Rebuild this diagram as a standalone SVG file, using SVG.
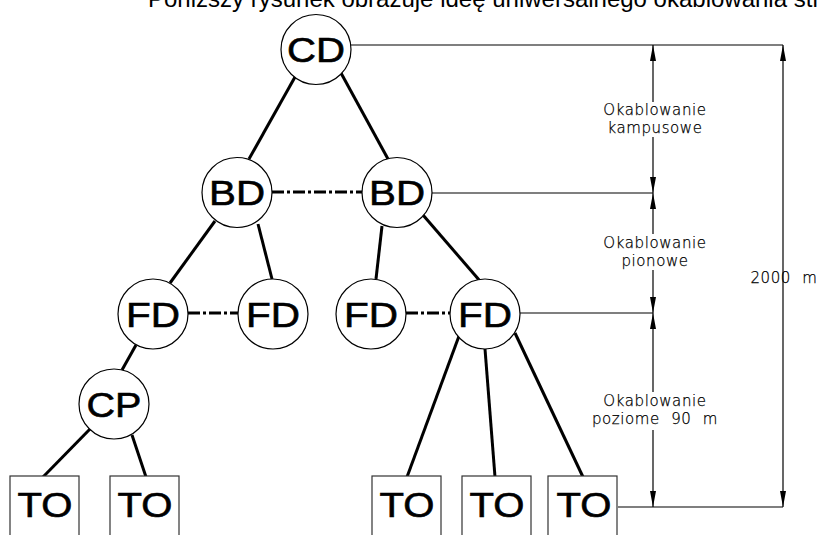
<svg xmlns="http://www.w3.org/2000/svg" width="819" height="535" viewBox="0 0 819 535">
<style>
.nd{fill:#fff;stroke:#000;stroke-width:1.2}
.bx{fill:#fff;stroke:#333;stroke-width:1.2}
.lb{font-family:"Liberation Sans",Arial,sans-serif;font-size:35px;fill:#000;stroke:#000;stroke-width:0.6;text-anchor:middle}
.cn{stroke:#000;stroke-width:3;fill:none}
.dd{stroke:#000;stroke-width:3;fill:none;stroke-dasharray:12 3 3 3}
.thin{stroke:#000;stroke-width:1.2;fill:none}
.dim{stroke:#000;stroke-width:1.2;fill:none;marker-end:url(#arr)}
.cad{font-family:"DejaVu Sans","Liberation Sans",sans-serif;font-weight:200;font-size:15px;fill:#000;stroke:#000;stroke-width:0.25;text-anchor:middle;letter-spacing:0.6px}
.title{font-family:"Liberation Sans",Arial,sans-serif;font-size:24px;fill:#000}
</style>
<defs>
<marker id="arr" viewBox="0 0 16 6" refX="16" refY="3" markerWidth="16" markerHeight="6" markerUnits="userSpaceOnUse" orient="auto">
<path d="M0,0 L16,3 L0,6 z" fill="#000"/>
</marker>
</defs>
<rect width="819" height="535" fill="#fff"/>
<text class="title" x="148" y="7">Poniższy rysunek obrazuje ideę uniwersalnego okablowania str</text>

<g id="connectors">
<line class="cn" x1="295" y1="77" x2="249" y2="159"/>
<line class="cn" x1="341" y1="73" x2="388" y2="159"/>
<line class="cn" x1="215" y1="221" x2="170" y2="283"/>
<line class="cn" x1="258" y1="224" x2="272" y2="279"/>
<line class="cn" x1="382" y1="226" x2="376" y2="279"/>
<line class="cn" x1="423" y1="215" x2="480" y2="281"/>
<line class="cn" x1="136" y1="345" x2="122" y2="370"/>
<line class="cn" x1="91" y1="428" x2="43" y2="477"/>
<line class="cn" x1="132" y1="435" x2="146" y2="477"/>
<line class="cn" x1="459" y1="336" x2="407" y2="477"/>
<line class="cn" x1="485" y1="349" x2="495" y2="477"/>
<line class="cn" x1="515" y1="333" x2="583" y2="477"/>
<line class="dd" x1="272" y1="192" x2="363" y2="192"/>
<line class="dd" x1="188" y1="313" x2="238" y2="313"/>
<line class="dd" x1="406" y1="313" x2="450" y2="313"/>
</g>

<g id="dimensions">
<line class="thin" x1="351" y1="45" x2="783" y2="45"/>
<line class="thin" x1="432" y1="193" x2="653" y2="193"/>
<line class="thin" x1="520" y1="313" x2="653" y2="313"/>
<line class="thin" x1="618" y1="507" x2="783" y2="507"/>
<path class="dim" d="M653,102 V45"/>
<path class="dim" d="M653,137 V193"/>
<path class="dim" d="M653,234 V193"/>
<path class="dim" d="M653,270 V313"/>
<path class="dim" d="M653,392 V313"/>
<path class="dim" d="M653,430 V507"/>
<path class="dim" d="M783,276 V45"/>
<path class="dim" d="M783,276 V507"/>
<text class="cad" x="655" y="115">Okablowanie</text>
<text class="cad" x="655" y="133">kampusowe</text>
<text class="cad" x="655" y="248">Okablowanie</text>
<text class="cad" x="655" y="266">pionowe</text>
<text class="cad" x="655" y="406">Okablowanie</text>
<text class="cad" x="655" y="424" word-spacing="6">poziome 90 m</text>
<text class="cad" x="784" y="283" word-spacing="6">2000 m</text>
</g>

<g id="CD"><circle class="nd" cx="316" cy="49.5" r="35"/><text class="lb" x="316" y="62" textLength="58" lengthAdjust="spacingAndGlyphs">CD</text></g>
<g id="BD1"><circle class="nd" cx="237" cy="192.5" r="35"/><text class="lb" x="237" y="205" textLength="56" lengthAdjust="spacingAndGlyphs">BD</text></g>
<g id="BD2"><circle class="nd" cx="397" cy="192.5" r="35"/><text class="lb" x="397" y="205" textLength="56" lengthAdjust="spacingAndGlyphs">BD</text></g>
<g id="FD1"><circle class="nd" cx="153" cy="314" r="35"/><text class="lb" x="153" y="326.5" textLength="54" lengthAdjust="spacingAndGlyphs">FD</text></g>
<g id="FD2"><circle class="nd" cx="273" cy="314" r="35"/><text class="lb" x="273" y="326.5" textLength="54" lengthAdjust="spacingAndGlyphs">FD</text></g>
<g id="FD3"><circle class="nd" cx="371" cy="314" r="35"/><text class="lb" x="371" y="326.5" textLength="54" lengthAdjust="spacingAndGlyphs">FD</text></g>
<g id="FD4"><circle class="nd" cx="485" cy="314" r="35"/><text class="lb" x="485" y="326.5" textLength="54" lengthAdjust="spacingAndGlyphs">FD</text></g>
<g id="CP"><circle class="nd" cx="114" cy="404" r="35"/><text class="lb" x="114" y="416.5" textLength="55" lengthAdjust="spacingAndGlyphs">CP</text></g>
<g id="TO1"><rect class="bx" x="10" y="476" width="69" height="70"/><text class="lb" x="45" y="517" textLength="55" lengthAdjust="spacingAndGlyphs">TO</text></g>
<g id="TO2"><rect class="bx" x="110" y="476" width="69" height="70"/><text class="lb" x="145" y="517" textLength="55" lengthAdjust="spacingAndGlyphs">TO</text></g>
<g id="TO3"><rect class="bx" x="372" y="476" width="69" height="70"/><text class="lb" x="407" y="517" textLength="55" lengthAdjust="spacingAndGlyphs">TO</text></g>
<g id="TO4"><rect class="bx" x="462" y="476" width="69" height="70"/><text class="lb" x="497" y="517" textLength="55" lengthAdjust="spacingAndGlyphs">TO</text></g>
<g id="TO5"><rect class="bx" x="548" y="476" width="69" height="70"/><text class="lb" x="584" y="517" textLength="55" lengthAdjust="spacingAndGlyphs">TO</text></g>
</svg>
